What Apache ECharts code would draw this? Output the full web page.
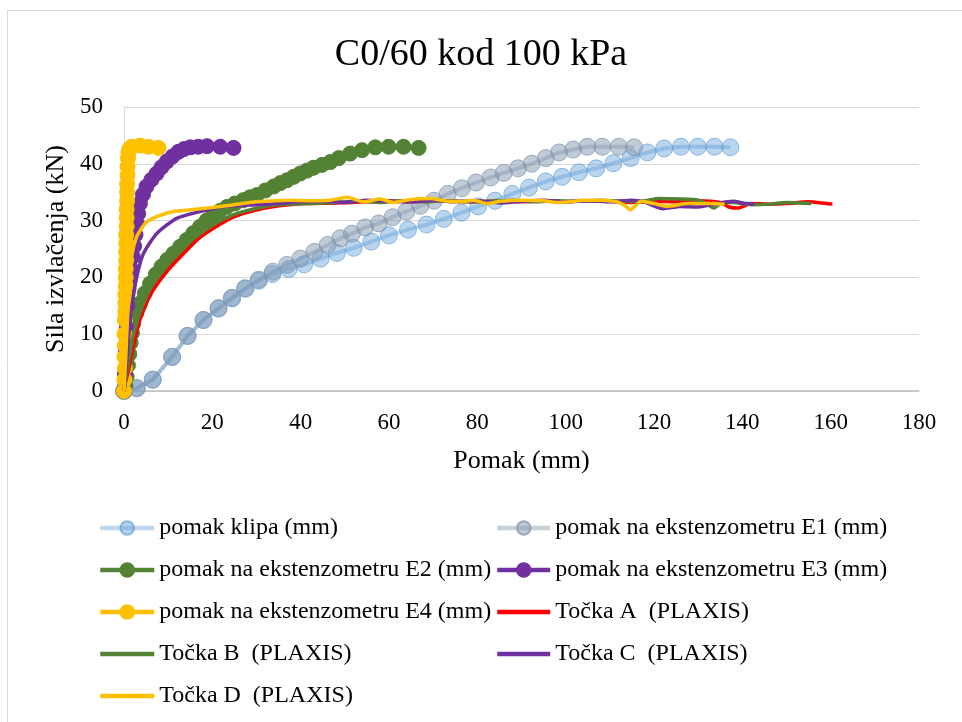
<!DOCTYPE html>
<html>
<head>
<meta charset="utf-8">
<script src="https://cdn.jsdelivr.net/npm/echarts@6/dist/echarts.min.js"></script>
<style>html,body{margin:0;padding:0;background:#fff}#c{width:962px;height:722px}</style>
</head>
<body>
<div id="c"></div>
<script>
// ---- data ----
const titleText = 'C0/60 kod 100 kPa';
const xName = 'Pomak (mm)';
const yName = 'Sila izvlačenja (kN)';
const seriesNames = [
  'pomak klipa (mm)', 'pomak na ekstenzometru E1 (mm)',
  'pomak na ekstenzometru E2 (mm)', 'pomak na ekstenzometru E3 (mm)',
  'pomak na ekstenzometru E4 (mm)', 'Točka A  (PLAXIS)',
  'Točka B  (PLAXIS)', 'Točka C  (PLAXIS)', 'Točka D  (PLAXIS)'
];
const klipa = [[0,0],[2.9,0.5],[6.5,2],[10.9,6],[14.4,9.7],[18,12.5],[21.4,14.5],[24.5,16.3],[27.5,18],[30.5,19.4],[33.6,20.6],[37.3,21.5],[40.8,22.3],[44.5,23.3],[48.2,24.3],[52,25.2],[56,26.3],[60,27.4],[64.3,28.4],[68.5,29.3],[72.4,30.3],[76.4,31.4],[80.2,32.5],[84,33.5],[87.9,34.7],[91.7,35.8],[95.5,36.9],[99.2,37.7],[103,38.5],[106.9,39.2],[110.8,40.1],[114.7,41],[118.5,42],[122.3,42.7],[126.1,43],[129.9,43],[133.7,43],[137.3,42.9]];
const e1 = [[0,0],[2.9,0.5],[6.5,2],[10.9,6],[14.4,9.7],[18,12.5],[21.4,14.6],[24.4,16.4],[27.4,18.1],[30.5,19.6],[33.7,21],[36.9,22.2],[39.9,23.3],[43.1,24.5],[46.1,25.7],[49,26.9],[51.6,27.7],[54.6,28.8],[57.7,29.5],[60.8,30.6],[63.9,31.6],[67.1,32.6],[70.2,33.5],[73.3,34.7],[76.5,35.7],[79.7,36.7],[83,37.6],[86,38.4],[89.2,39.2],[92.3,40],[95.5,41],[98.5,42],[101.7,42.5],[104.9,43],[108.3,43],[112,43],[115.5,42.9]];
const e2 = [[0,0],[0.3,1],[0.6,2.5],[0.9,4.5],[1.2,6.5],[1.5,8.5],[1.8,10.2],[2.1,11.9],[2.8,13.8],[3.6,15.4],[4.7,17.2],[5.9,18.9],[7.2,20.5],[8.5,21.9],[9.8,23.1],[11.2,24.2],[12.7,25.4],[14.2,26.6],[15.7,27.8],[17.2,28.9],[18.7,30],[20.2,31],[21.7,31.7],[23.3,32.4],[25.1,33],[27,33.6],[28.5,34.1],[30.1,34.5],[32,35.3],[33.9,36],[35.4,36.6],[36.9,37.1],[38.4,37.7],[39.9,38.3],[41.4,38.8],[42.9,39.3],[44.8,39.8],[46.7,40.3],[48.6,41],[51.2,41.8],[53.9,42.4],[56.9,42.9],[59.9,43],[63.3,43],[66.7,42.8]];
const e3 = [[0,0],[0.2,3],[0.4,7],[0.6,11],[0.8,15],[1,18],[1.3,20],[1.6,21.5],[2,23.6],[2.3,25.5],[2.6,27.5],[2.9,29.5],[3.2,31.2],[3.6,33],[4.3,34.6],[5.1,36],[6.2,37.2],[7.4,38.3],[8.5,39.4],[9.7,40.4],[11,41.3],[12.3,42.1],[13.6,42.6],[15,42.9],[16.8,43],[18.8,43.1],[21.8,43],[24.8,42.8]];
const e4 = [[0,0],[0.1,2],[0.2,4],[0.1,6],[0.2,8],[0.1,10],[0.2,12.5],[0.3,14],[0.3,15.5],[0.3,17],[0.4,18.5],[0.4,20],[0.4,21.5],[0.5,23],[0.5,24.5],[0.5,26],[0.5,27.5],[0.6,29],[0.6,30.5],[0.6,32],[0.7,33.5],[0.7,35],[0.7,36.5],[0.8,38],[0.8,39.5],[0.9,41],[1,42],[1.2,42.6],[1.7,43],[3.6,43.2],[5.5,43],[7.8,42.8]];
const tockaA = [[0,0],[0.3,1.5],[1,3.5],[2,7.5],[3.6,12.5],[6,17],[10,21.3],[13.5,24.2],[17,26.9],[21,29],[25,30.7],[29,31.7],[34,32.5],[41,33],[48,33.1],[55,33.3],[60,33.5],[65,33.3],[70,33.6],[75,33.4],[80,33.3],[85,33.5],[90,33.3],[95,33.5],[100,33.3],[105,33.5],[110,33.4],[115,33.2],[120,33.4],[125,33.3],[130,33.5],[135,33.2],[137,32.4],[139,32.2],[142,33],[146,32.9],[150,33],[155,33.3],[158,33.1],[160.4,32.9]];
const tockaB = [[0,0],[0.5,2.5],[1,5],[2,9.5],[3.5,13.5],[5,16.5],[7,19.5],[10,22.5],[13,25],[16,27],[20,29.2],[24,30.8],[28,31.8],[32,32.5],[37,32.9],[42,33],[48,33.2],[53,33.4],[58,33.2],[63,33.5],[68,33.3],[73,33.5],[78,33.3],[83,33.4],[88,33.6],[93,33.3],[98,33.5],[103,33.4],[108,33.6],[113,33.4],[118,33.5],[121,33.9],[126,33.8],[130,33.6],[132,32.9],[133.6,32.2],[135,33],[138,33.2],[142,32.8],[146,32.9],[150,33.2],[155.6,33]];
const tockaC = [[0,0],[0.5,4],[1,9],[1.8,15],[2.9,20.1],[4.4,24.2],[7.4,27.7],[11.9,30.4],[17.2,31.6],[22.5,32.5],[30,32.8],[35,33],[40,33.3],[45,33.4],[50,33.2],[55,33.6],[60,33.4],[65,33.3],[70,33.6],[75,33.3],[80,33.5],[85,33.1],[90,33.4],[95,33.6],[100,33.3],[105,33.5],[110,33.3],[115,33.6],[118,33.2],[122,32.1],[126,32.5],[130,32.4],[134,33],[138,33.4],[140,33.1],[142.7,32.9]];
const tockaD = [[0,0],[0.4,6],[0.8,13],[1.2,19],[1.7,23.6],[2.9,27.2],[4.8,29.5],[7.4,30.7],[11.2,31.6],[15,31.9],[18.8,32.2],[24,32.7],[30,33.3],[37.6,33.6],[42,33.5],[46.7,33.6],[50.5,34.1],[54.3,33.3],[58,33.8],[61,33.2],[64.8,33.7],[69.4,33.9],[72.4,33.5],[76.2,33.3],[79.2,33.6],[82.2,33],[85.3,33.4],[90,33.6],[95,33.5],[98,33.2],[101,33.3],[104,33.6],[108,33.6],[111.7,33.3],[113.5,32.6],[114.7,31.9],[116,32.8],[117,33.4],[120,33],[123,32.5],[127.5,33],[133.6,33],[136,32.9]];
const xTicks = {min: 0, max: 180, interval: 20};
const yTicks = {min: 0, max: 50, interval: 10};

// ---- chart ----
const FONT = "'Liberation Serif','Times New Roman',serif";
const chart = echarts.init(document.getElementById('c'), null, {renderer: 'canvas'});

function markerSeries(name, data, lineColor, fill, border, size) {
  return {
    name, type: 'line', data, symbol: 'circle', symbolSize: size, showSymbol: true,
    lineStyle: {color: lineColor, width: 4},
    itemStyle: {color: fill, borderColor: border, borderWidth: 1},
    emphasis: {disabled: true}, z: 2
  };
}
function plainSeries(name, data, color) {
  return {
    name, type: 'line', data, symbol: 'none', smooth: 0.2,
    lineStyle: {color, width: 3.5}, itemStyle: {color},
    emphasis: {disabled: true}, z: 3
  };
}
function lineOnly(name) {
  return {name, itemStyle: {opacity: 0}};
}

const legendCommon = {
  orient: 'vertical', itemHeight: 17, itemGap: 14, top: 509,
  textStyle: {fontFamily: FONT, fontSize: 24, color: '#000', lineHeight: 28},
  lineStyle: {width: 4.5},
  selectedMode: false
};

chart.setOption({
  animation: false,
  backgroundColor: '#fff',
  title: {
    text: titleText, left: 'center', top: 31,
    textStyle: {fontFamily: FONT, fontSize: 38, fontWeight: 'normal', color: '#000'}
  },
  graphic: [{
    type: 'rect', shape: {x: 7.5, y: 10.5, width: 1000, height: 1000},
    style: {fill: 'none', stroke: '#d9d9d9', lineWidth: 1}, silent: true, z: -1
  }],
  grid: {left: 124, right: 43, top: 107, bottom: 331},
  xAxis: {
    type: 'value', min: xTicks.min, max: xTicks.max, interval: xTicks.interval,
    name: xName, nameLocation: 'middle', nameGap: 57,
    nameTextStyle: {fontFamily: FONT, fontSize: 26, color: '#000'},
    axisLine: {show: true, lineStyle: {color: '#bfbfbf', width: 1.5}},
    axisTick: {show: false},
    splitLine: {show: false},
    axisLabel: {fontFamily: FONT, fontSize: 23, color: '#000', margin: 20}
  },
  yAxis: {
    type: 'value', min: yTicks.min, max: yTicks.max, interval: yTicks.interval,
    name: yName, nameLocation: 'middle', nameGap: 53,
    nameTextStyle: {fontFamily: FONT, fontSize: 26, color: '#000'},
    axisLine: {show: true, lineStyle: {color: '#d9d9d9', width: 1}},
    axisTick: {show: false},
    splitLine: {show: true, lineStyle: {color: '#d9d9d9', width: 1}},
    axisLabel: {fontFamily: FONT, fontSize: 23, color: '#000', margin: 21}
  },
  legend: [
    Object.assign({}, legendCommon, {left: 93, itemWidth: 54,
      data: [seriesNames[0], seriesNames[2], seriesNames[4], lineOnly(seriesNames[6]), lineOnly(seriesNames[8])]}),
    Object.assign({}, legendCommon, {left: 490, itemWidth: 53,
      data: [seriesNames[1], seriesNames[3], lineOnly(seriesNames[5]), lineOnly(seriesNames[7])]})
  ],
  series: [
    markerSeries(seriesNames[0], klipa, 'rgba(91,155,213,0.4)', 'rgba(91,155,213,0.42)', 'rgba(91,155,213,0.65)', 17),
    markerSeries(seriesNames[1], e1, 'rgba(132,151,176,0.45)', 'rgba(132,151,176,0.5)', 'rgba(132,151,176,0.75)', 17),
    markerSeries(seriesNames[2], e2, '#548235', '#548235', '#548235', 15),
    markerSeries(seriesNames[3], e3, '#7030a0', '#7030a0', '#7030a0', 15),
    markerSeries(seriesNames[4], e4, '#ffc000', '#ffc000', '#ffc000', 15),
    plainSeries(seriesNames[5], tockaA, '#ff0000'),
    plainSeries(seriesNames[6], tockaB, '#548235'),
    plainSeries(seriesNames[7], tockaC, '#7030a0'),
    plainSeries(seriesNames[8], tockaD, '#ffc000')
  ]
});
</script>
</body>
</html>
